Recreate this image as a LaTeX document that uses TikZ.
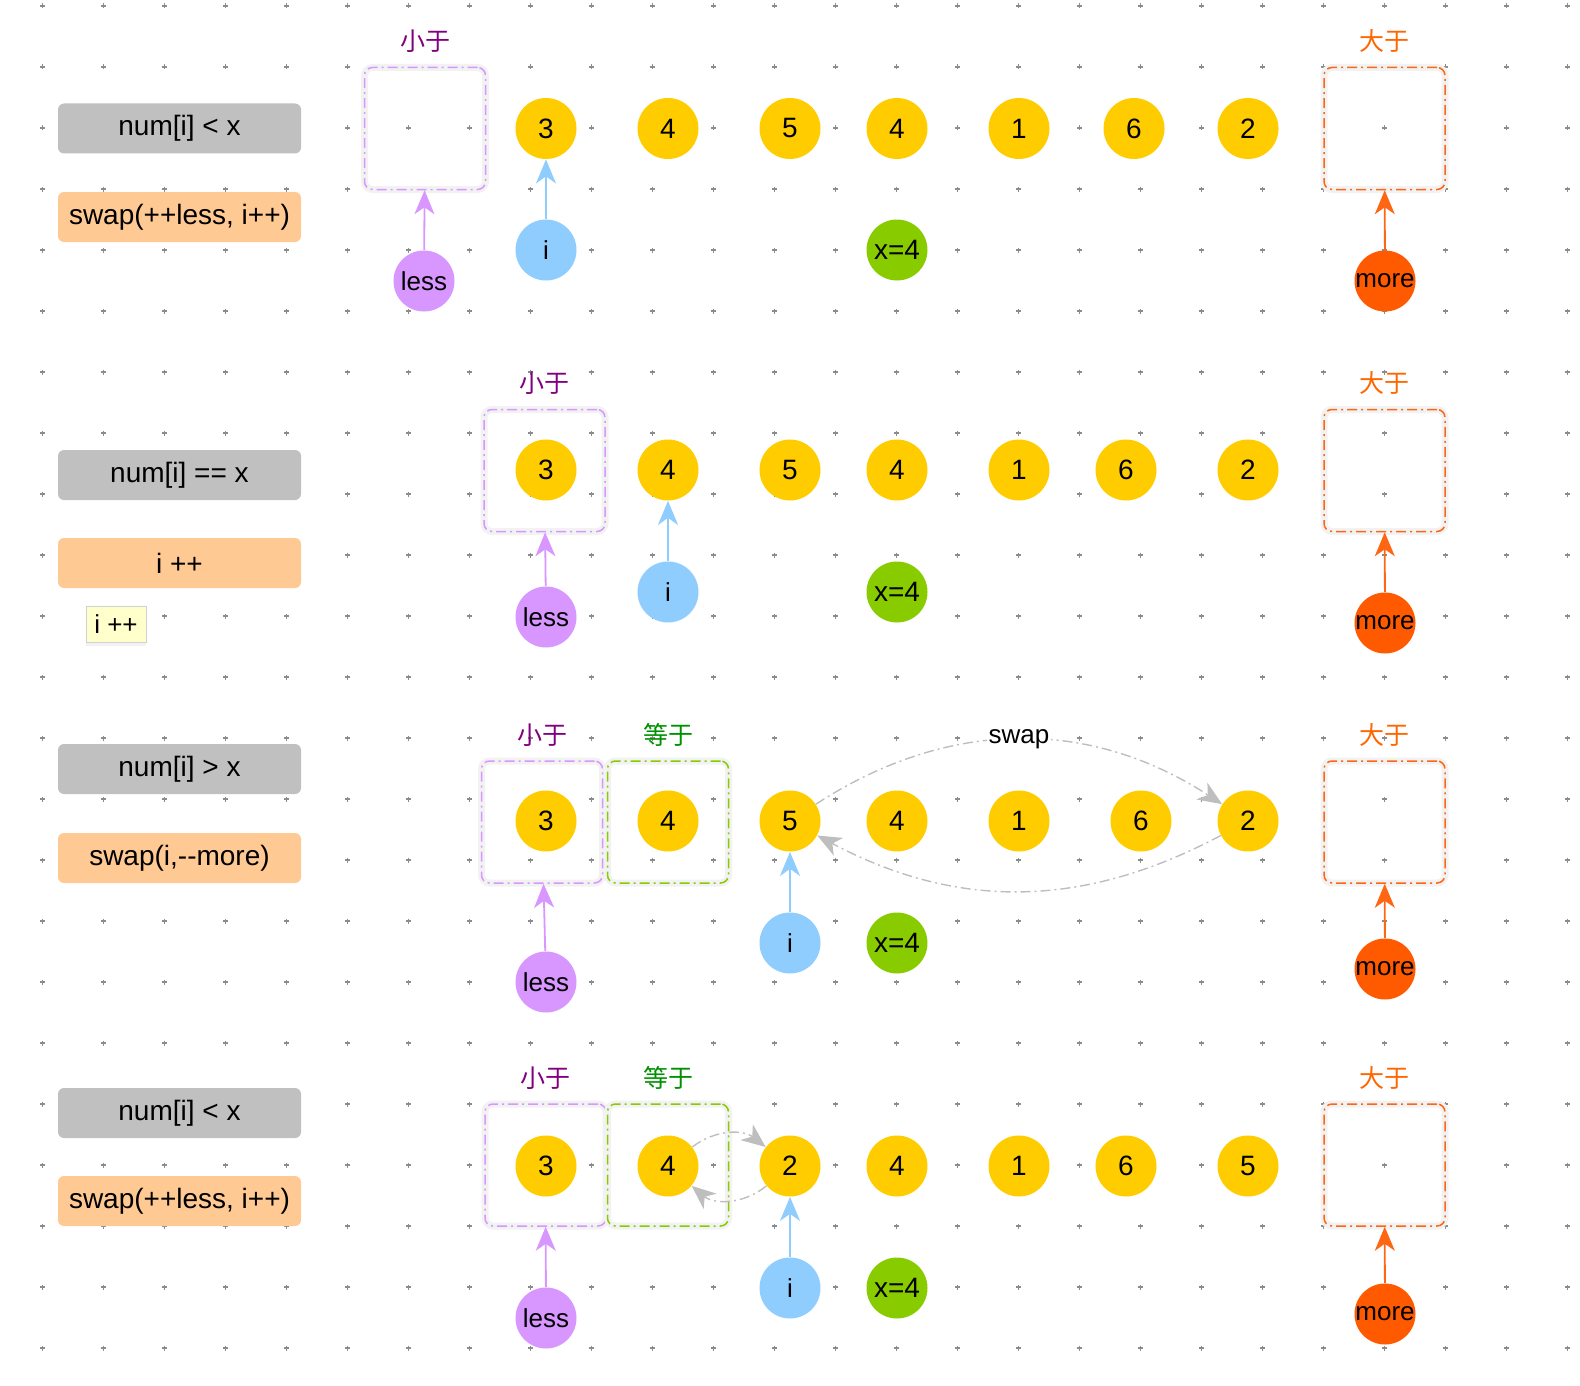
\documentclass[tikz,border=0pt]{standalone}
\usepackage{fontspec}
\setmainfont{Liberation Sans}
\newfontfamily\cjk{Noto Sans CJK SC}
\usetikzlibrary{arrows.meta,shadows}
\definecolor{gridgray}{RGB}{140,140,140}
\definecolor{condgray}{RGB}{192,192,192}
\definecolor{actorange}{RGB}{255,201,148}
\definecolor{numfill}{RGB}{255,204,0}
\definecolor{lessfill}{RGB}{216,150,255}
\definecolor{ifill}{RGB}{143,205,255}
\definecolor{eqfill}{RGB}{136,204,0}
\definecolor{morefill}{RGB}{255,90,0}
\definecolor{moreline}{RGB}{255,102,20}
\definecolor{lesstxt}{RGB}{128,0,128}
\definecolor{eqtxt}{RGB}{0,145,0}
\definecolor{moretxt}{RGB}{255,102,0}
\definecolor{swapgray}{RGB}{190,190,190}
\definecolor{tipyellow}{RGB}{255,255,204}

\begin{document}
\begin{tikzpicture}[x=0.5pt, y=-0.5pt,
    gridpt/.style={draw=gridgray, line width=0.6pt},
    cond/.style={fill=condgray, rounded corners=3pt, minimum width=121.5pt,
                 minimum height=25pt, inner sep=0pt, font=\fontsize{14}{16}\selectfont},
    act/.style={cond, fill=actorange},
    cell/.style={circle, fill=numfill, minimum size=30.5pt, inner sep=0pt,
                 font=\fontsize{14}{16}\selectfont},
    ptr/.style={circle, minimum size=30.5pt, inner sep=0pt, font=\fontsize{13}{15}\selectfont},
    part/.style={rounded corners=4pt, minimum width=60.5pt, minimum height=61pt,
                 inner sep=0pt, line width=0.75pt,
                 dash pattern=on 5pt off 2pt on 1pt off 2pt,
                 preaction={draw=black!5, line width=3.5pt, solid}},
    partlbl/.style={font=\cjk\fontsize{12.5}{14}\selectfont, inner sep=0pt},
    lessarr/.style={->, draw=lessfill, line width=0.9pt},
    iarr/.style={->, draw=ifill, line width=0.9pt},
    morearr/.style={->, draw=moreline, line width=0.9pt},
    swaparr/.style={->, draw=swapgray, line width=0.7pt,
                    dash pattern=on 5pt off 2pt on 1pt off 2pt},
    tipbox/.style={fill=tipyellow, draw=black!18, line width=0.4pt, minimum width=30pt,
                   minimum height=18pt, inner sep=0pt, font=\fontsize{13}{15}\selectfont,
                   drop shadow={opacity=0.1, shadow xshift=0pt, shadow yshift=-2pt}},
    >={Stealth[length=12pt,width=10pt,inset=3.5pt]}]
  \useasboundingbox (0,0) rectangle (1580,1386);

  % dotted background grid
  \foreach \gx in {0,...,25}
    \foreach \gy in {0,...,22}
      \draw[gridpt] ({42.3+61*\gx},{6+61*\gy}) +(-2.5,0) -- +(2.5,0) +(0,-2.5) -- +(0,2.5);

  % row 1: num[i] < x
  \node[cond] (cond1) at (179.5,128.5) {num[i] < x};
  \node[act]  (act1)  at (179.5,217)   {swap(++less, i++)};
  \foreach \v/\x [count=\k] in {3/546,4/668,5/790,4/897,1/1019,6/1134,2/1248}
    \node[cell] (ra\k) at (\x,128.5) {\v};
  \node[part, draw=lessfill] (lt1) at (425,128.5) {};
  \node[part, draw=moreline] (gt1) at (1384.5,128.5) {};
  \node[partlbl, text=lesstxt] (ltlbl1) at (425,41) {小于};
  \node[partlbl, text=moretxt] (gtlbl1) at (1384.5,41) {大于};
  \node[ptr, fill=lessfill] (less1) at (424,281) {less};
  \node[ptr, fill=ifill]    (i1)    at (546,250) {i};
  \node[ptr, fill=eqfill, font=\fontsize{14}{16}\selectfont] (x1) at (897,250) {x=4};
  \node[ptr, fill=morefill] (more1) at (1385,281) {more};
  \draw[lessarr] (less1) -- (lt1);
  \draw[iarr] (i1) -- (ra1);
  \draw[morearr] (more1) -- (gt1);

  % row 2: num[i] == x
  \node[cond] (cond2) at (179.5,475) {num[i] == x};
  \node[act]  (act2)  at (179.5,563) {i ++};
  \node[tipbox] (tip2) at (116,624) {i ++};
  \foreach \v/\x [count=\k] in {3/546,4/668,5/790,4/897,1/1019,6/1126,2/1248}
    \node[cell] (rb\k) at (\x,470) {\v};
  \node[part, draw=lessfill] (lt2) at (544.5,470.5) {};
  \node[part, draw=moreline] (gt2) at (1384.5,470.5) {};
  \node[partlbl, text=lesstxt] (ltlbl2) at (544.5,383) {小于};
  \node[partlbl, text=moretxt] (gtlbl2) at (1384.5,383) {大于};
  \node[ptr, fill=lessfill] (less2) at (546,617) {less};
  \node[ptr, fill=ifill]    (i2)    at (668,592) {i};
  \node[ptr, fill=eqfill, font=\fontsize{14}{16}\selectfont] (x2) at (897,592) {x=4};
  \node[ptr, fill=morefill] (more2) at (1385,623) {more};
  \draw[lessarr] (less2) -- (lt2);
  \draw[iarr] (i2) -- (rb2);
  \draw[morearr] (more2) -- (gt2);

  % row 3: num[i] > x
  \node[cond] (cond3) at (179.5,769) {num[i] > x};
  \node[act]  (act3)  at (179.5,858) {swap(i,-{}-more)};
  \foreach \v/\x [count=\k] in {3/546,4/668,5/790,4/897,1/1019,6/1141,2/1248}
    \node[cell] (rc\k) at (\x,821) {\v};
  \node[part, draw=lessfill] (lt3) at (542,822) {};
  \node[part, draw=eqfill]   (eq3) at (668,822) {};
  \node[part, draw=moreline] (gt3) at (1384.5,822) {};
  \node[partlbl, text=lesstxt] (ltlbl3) at (542,735) {小于};
  \node[partlbl, text=eqtxt]   (eqlbl3) at (668,735) {等于};
  \node[partlbl, text=moretxt] (gtlbl3) at (1384.5,735) {大于};
  \node[ptr, fill=lessfill] (less3) at (546,982) {less};
  \node[ptr, fill=ifill]    (i3)    at (790,943) {i};
  \node[ptr, fill=eqfill, font=\fontsize{14}{16}\selectfont] (x3) at (897,943) {x=4};
  \node[ptr, fill=morefill] (more3) at (1385,969) {more};
  \draw[lessarr] (less3) -- (lt3);
  \draw[iarr] (i3) -- (rc3);
  \draw[morearr] (more3) -- (gt3);
  \draw[swaparr] (rc3) to[bend left=33]
    node[fill=white, inner sep=1pt, font=\fontsize{13}{15}\selectfont] (swaplbl) {swap} (rc7);
  \draw[swaparr] (rc7) to[bend left=28] (rc3);

  % row 4: num[i] < x again
  \node[cond] (cond4) at (179.5,1113) {num[i] < x};
  \node[act]  (act4)  at (179.5,1201) {swap(++less, i++)};
  \foreach \v/\x [count=\k] in {3/546,4/668,2/790,4/897,1/1019,6/1126,5/1248}
    \node[cell] (rd\k) at (\x,1166) {\v};
  \node[part, draw=lessfill] (lt4) at (545.5,1165) {};
  \node[part, draw=eqfill]   (eq4) at (668,1165) {};
  \node[part, draw=moreline] (gt4) at (1384.5,1165) {};
  \node[partlbl, text=lesstxt] (ltlbl4) at (545.5,1078) {小于};
  \node[partlbl, text=eqtxt]   (eqlbl4) at (668,1078) {等于};
  \node[partlbl, text=moretxt] (gtlbl4) at (1384.5,1078) {大于};
  \node[ptr, fill=lessfill] (less4) at (546,1318) {less};
  \node[ptr, fill=ifill]    (i4)    at (790,1288) {i};
  \node[ptr, fill=eqfill, font=\fontsize{14}{16}\selectfont] (x4) at (897,1288) {x=4};
  \node[ptr, fill=morefill] (more4) at (1385,1314) {more};
  \draw[lessarr] (less4) -- (lt4);
  \draw[iarr] (i4) -- (rd3);
  \draw[morearr] (more4) -- (gt4);
  \draw[swaparr] (rd2) to[bend left=38] (rd3);
  \draw[swaparr] (rd3) to[bend left=40] (rd2);
\end{tikzpicture}
\end{document}
